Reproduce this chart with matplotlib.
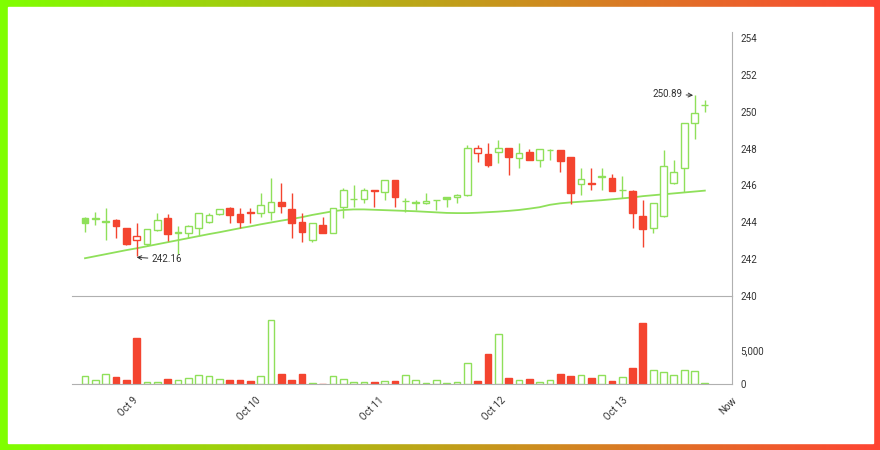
import numpy as np
import matplotlib.pyplot as plt
from matplotlib.patches import Rectangle

# 2-hour candles, Oct 9 -> now
opens = [244.22, 244.20, 244.05, 244.12, 243.67, 243.04, 242.80, 243.58, 244.25, 243.42,
         243.43, 243.67, 244.03, 244.43, 244.76, 244.43, 244.53, 244.49, 244.57, 245.08,
         244.72, 244.00, 243.04, 243.85, 243.40, 244.85, 245.24, 245.25, 245.72, 245.66,
         246.30, 245.14, 245.05, 245.06, 245.20, 245.39, 245.39, 245.48, 247.74, 247.70,
         247.83, 248.01, 247.47, 247.83, 247.38, 247.90, 247.92, 247.56, 246.08, 246.12,
         246.46, 246.39, 245.74, 245.71, 244.34, 243.67, 244.34, 246.11, 246.93, 249.37,
         250.35]
highs = [244.30, 244.57, 244.76, 244.16, 243.70, 243.98, 243.65, 244.49, 244.43, 243.80,
         243.85, 244.50, 244.49, 244.72, 244.85, 244.76, 244.76, 245.60, 246.39, 246.12,
         245.57, 244.49, 243.94, 244.30, 244.76, 245.85, 246.02, 245.85, 245.75, 246.30,
         246.30, 245.30, 245.21, 245.57, 245.21, 245.39, 245.55, 248.19, 248.19, 248.32,
         248.46, 248.05, 248.32, 247.98, 247.96, 247.96, 247.95, 247.56, 246.93, 246.93,
         246.93, 246.62, 246.53, 245.75, 245.21, 245.05, 247.92, 247.38, 249.40, 250.89,
         250.63]
lows = [243.49, 243.85, 243.04, 243.13, 242.75, 242.16, 242.71, 243.55, 242.98, 242.30,
        243.13, 243.31, 243.94, 244.40, 243.94, 243.67, 243.94, 244.30, 244.12, 244.49,
        243.13, 242.95, 242.95, 243.40, 243.40, 244.22, 244.85, 245.06, 244.85, 245.20,
        244.85, 244.57, 244.67, 245.00, 244.67, 244.81, 245.03, 245.45, 247.29, 247.02,
        247.20, 246.57, 246.93, 247.38, 247.02, 247.38, 246.75, 244.99, 245.48, 245.75,
        245.75, 245.71, 245.30, 243.67, 242.68, 243.40, 244.30, 246.08, 245.66, 248.50,
        250.00]
closes = [243.98, 244.22, 244.02, 243.82, 242.82, 243.26, 243.62, 244.12, 243.35, 243.45,
          243.80, 244.49, 244.40, 244.70, 244.40, 244.00, 244.51, 244.94, 245.12, 244.88,
          243.94, 243.49, 243.94, 243.43, 244.76, 245.75, 245.26, 245.75, 245.70, 246.30,
          245.39, 245.16, 245.07, 245.17, 245.22, 245.25, 245.48, 248.01, 248.01, 247.10,
          248.01, 247.53, 247.78, 247.38, 247.96, 247.92, 247.34, 245.57, 246.37, 246.10,
          246.48, 245.71, 245.76, 244.49, 243.62, 245.03, 247.05, 246.75, 249.37, 249.95,
          250.37]
direction = ("uuuddduudu" "uuuuddduud" "dduduuuudu" "duuuuuuudd"
             "ududuuddud" "ududduuuuu" "u")
volume = [1130, 640, 1520, 980, 640, 6760, 245, 290, 780, 640,
          830, 1320, 1130, 780, 640, 640, 440, 1225, 9360, 1470,
          640, 1470, 150, 50, 1130, 780, 340, 340, 340, 490,
          490, 1370, 590, 150, 540, 200, 290, 3090, 390, 4410,
          7400, 880, 590, 690, 245, 590, 1520, 1225, 1320, 830,
          1370, 390, 1030, 2350, 8970, 2110, 1720, 1320, 2010, 1910, 150]
ma = [242.05, 242.16, 242.27, 242.38, 242.49, 242.59, 242.70, 242.81, 242.92, 243.03,
      243.14, 243.25, 243.36, 243.46, 243.57, 243.68, 243.78, 243.89, 243.99, 244.09,
      244.18, 244.28, 244.40, 244.50, 244.60, 244.67, 244.70, 244.70, 244.68, 244.66,
      244.64, 244.62, 244.60, 244.57, 244.54, 244.51, 244.50, 244.50, 244.52, 244.55,
      244.58, 244.62, 244.67, 244.74, 244.82, 244.95, 245.03, 245.08, 245.12, 245.16,
      245.20, 245.25, 245.30, 245.35, 245.42, 245.47, 245.52, 245.57, 245.62, 245.67,
      245.72]
date_ticks = [4.65, 16.5, 28.4, 40.2, 52.0, 62.6]
date_labels = ['Oct 9', 'Oct 10', 'Oct 11', 'Oct 12', 'Oct 13', 'Now']

GREEN = '#8fe05a'
RED = '#f4442f'
AXIS = '#b0b0b0'
TXT = '#333333'

plt.rcParams['font.family'] = ['Roboto', 'DejaVu Sans']

W, H = 880, 450
fig = plt.figure(figsize=(8.8, 4.5), dpi=100)

# gradient frame
bg = fig.add_axes([0, 0, 1, 1], zorder=-5)
grad = np.linspace(0, 1, 256)
c0 = np.array([127, 255, 0]) / 255
c1 = np.array([255, 68, 51]) / 255
img = (c0[None, :] * (1 - grad[:, None]) + c1[None, :] * grad[:, None])[None, :, :]
bg.imshow(img, aspect='auto', extent=[0, 1, 0, 1])
bg.add_patch(Rectangle((8 / W, 7 / H), 1 - 15 / W, 1 - 14 / H, color='white'))
bg.set_xlim(0, 1)
bg.set_ylim(0, 1)
bg.axis('off')

left = 72 / W
width = (732 - 72) / W
axp = fig.add_axes([left, (H - 296) / H, width, (296 - 32) / H])
axv = fig.add_axes([left, (H - 384) / H, width, (384 - 296) / H], sharex=axp)

x = np.arange(len(opens))
o = np.array(opens)
c = np.array(closes)
cols = [GREEN if d == 'u' else RED for d in direction]

axp.vlines(x, lows, highs, colors=cols, lw=1, zorder=2)
body_lo = np.minimum(o, c)
body_h = np.maximum(np.abs(c - o), 0.03)
faces = ['white' if cc > oo else col for oo, cc, col in zip(o, c, cols)]
axp.bar(x, body_h, bottom=body_lo, width=0.65, color=faces, edgecolor=cols,
        linewidth=1, zorder=3)
axp.plot(x, ma, color=GREEN, lw=1.3, zorder=1)

axp.annotate('242.16', xy=(5, 242.10), xytext=(11, -1.5), textcoords='offset points',
             ha='left', va='center', fontsize=7, color=TXT,
             arrowprops=dict(arrowstyle='->', lw=0.7, color=TXT, shrinkA=1, shrinkB=0))
axp.annotate('250.89', xy=(59, 250.89), xytext=(-9, 1), textcoords='offset points',
             ha='right', va='center', fontsize=7, color=TXT,
             arrowprops=dict(arrowstyle='->', lw=0.7, color=TXT, shrinkA=1, shrinkB=1))

vfaces = ['white' if d == 'u' else RED for d in direction]
axv.bar(x, volume, width=0.65, color=vfaces, edgecolor=cols, linewidth=1)

axp.set_xlim(-1.26, 62.63)
axp.set_ylim(240, 254.33)
axp.set_yticks(np.arange(240, 255, 2))
axv.set_ylim(0, 12940)
axv.set_yticks([0, 5000])
axv.set_yticklabels(['0', '5,000'])

for ax in (axp, axv):
    ax.yaxis.tick_right()
    ax.tick_params(axis='y', length=0, pad=6, labelsize=7, labelcolor=TXT)
    for s in ('left', 'top'):
        ax.spines[s].set_visible(False)
    ax.spines['right'].set_color(AXIS)
    ax.spines['bottom'].set_color(AXIS)
    ax.set_facecolor('none')

axp.tick_params(axis='x', length=0, labelbottom=False)
axv.set_xticks(date_ticks)
axv.set_xticklabels(date_labels, rotation=45, ha='right', rotation_mode='anchor',
                    fontsize=7, color=TXT)
axv.tick_params(axis='x', length=0, pad=8)

fig.savefig('out.png', dpi=100)
